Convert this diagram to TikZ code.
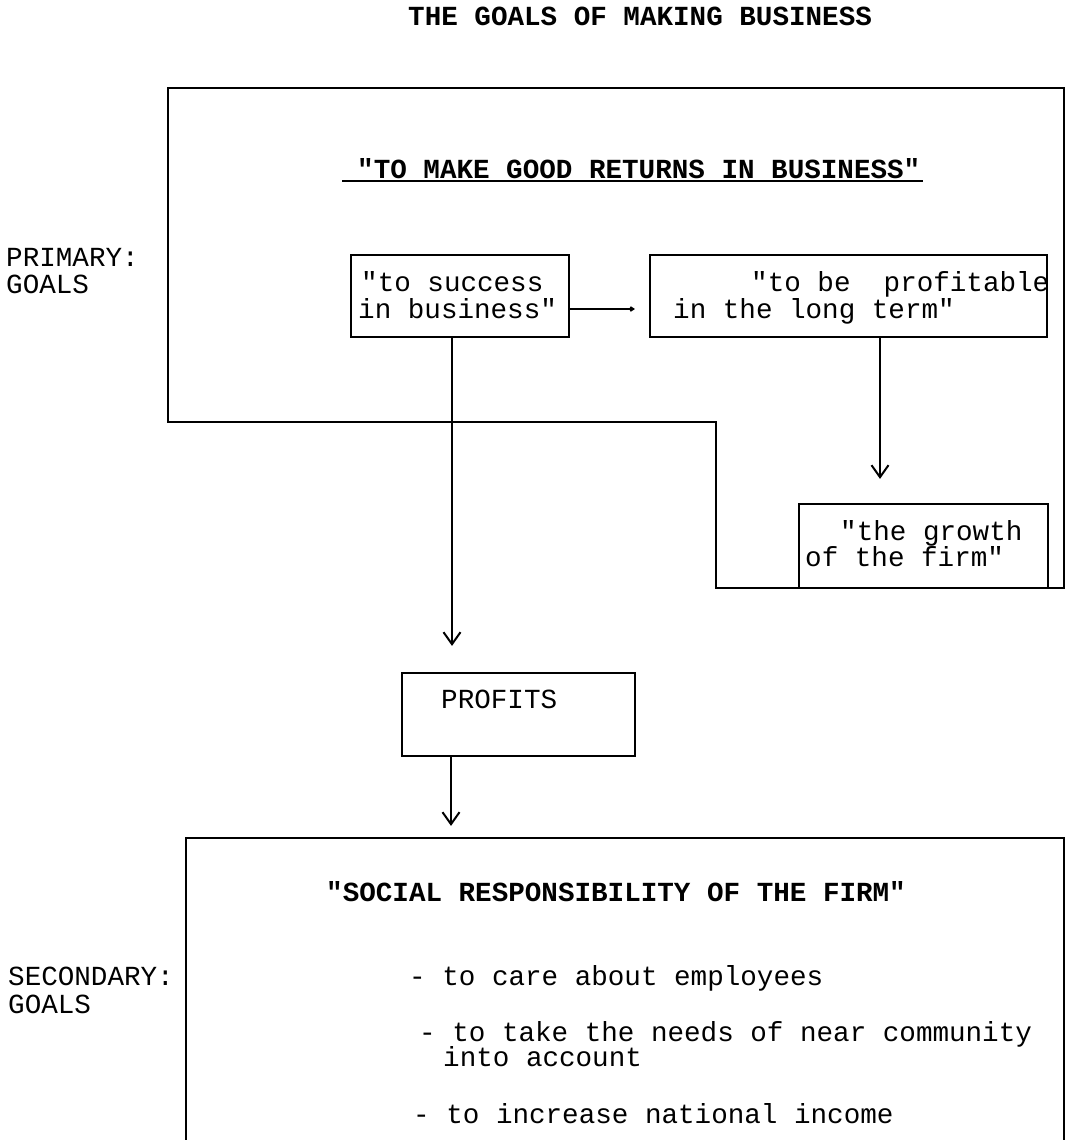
\documentclass[tikz,border=0pt]{standalone}
\usepackage{fontspec}
\setmonofont{Liberation Mono}
\usetikzlibrary{arrows.meta}
\begin{document}
\begin{tikzpicture}[x=1pt,y=-1pt,
  every node/.style={font=\ttfamily\fontsize{27.6}{27}\selectfont, inner sep=0pt},
  txt/.style={anchor=base west},
  bold/.style={font=\ttfamily\bfseries\fontsize{27.6}{27}\selectfont},
  frame/.style={draw, line width=2.2pt, line join=miter},
  box/.style={draw, line width=2.2pt},
  arr/.style={line width=1.8pt, -{Straight Barb[length=12pt,width=17pt,line width=2pt]}},
  tick/.style={line width=1.8pt, -{Straight Barb[length=3pt,width=4pt]}}
]
\useasboundingbox (0,0) rectangle (1066,1140);

% title
\node[txt, bold] (title) at (408,26) {THE GOALS OF MAKING BUSINESS};

% primary region outline
\draw[frame] (168,88) -- (1064,88) -- (1064,588) -- (716,588) -- (716,422) -- (168,422) -- cycle;

\node[txt] (prim1) at (6,266) {PRIMARY:};
\node[txt] (prim2) at (6,293) {GOALS};

% heading with underline
\node[txt, bold] (head) at (357,178) {"TO MAKE GOOD RETURNS IN BUSINESS"};
\draw[line width=1.8pt] ([xshift=-15pt,yshift=-3pt]head.base west) -- ([xshift=2pt,yshift=-3pt]head.base east);

% boxes
\node[box, minimum width=218pt, minimum height=82pt] (succ) at (460,296) {};
\node[box, minimum width=397pt, minimum height=82pt] (prof) at (848.5,296) {};
\node[box, minimum width=249pt, minimum height=84pt] (grow) at (923.5,546) {};
\node[box, minimum width=233pt, minimum height=83pt] (profits) at (518.5,714.5) {};
\node[box, minimum width=878pt, minimum height=312pt] (social) at (625,994) {};

% box texts
\node[txt] (succ1) at (361,291) {"to success};
\node[txt] (succ2) at (358,318) {in business"};
\node[txt] (prof1) at (751,291) {"to be\ \ profitable};
\node[txt] (prof2) at (673,318) {in the long term"};
\node[txt] (grow1) at (840,540) {"the growth};
\node[txt] (grow2) at (805,566) {of the firm"};
\node[txt] (proftxt) at (441,708) {PROFITS};

\node[txt, bold] (soc) at (326,901) {"SOCIAL RESPONSIBILITY OF THE FIRM"};
\node[txt] (sec1) at (8,985) {SECONDARY:};
\node[txt] (sec2) at (8,1013) {GOALS};
\node[txt] (item1) at (409,985) {- to care about employees};
\node[txt] (item2) at (419,1041) {- to take the needs of near community};
\node[txt] (item2b) at (443,1066) {into account};
\node[txt] (item3) at (413,1123) {- to increase national income};

% connectors
\draw[tick, shorten >=14pt] ([yshift=-13pt]succ.east) -- ([yshift=-13pt]succ.east -| prof.west);
\draw[arr, shorten >=26pt] ([xshift=-8pt]succ.south) -- ([xshift=-8pt]succ.south |- profits.north);
\draw[arr, shorten >=24pt] ([xshift=31.5pt]prof.south) -- ([xshift=31.5pt]prof.south |- grow.north);
\draw[arr, shorten >=11pt] ([xshift=-67.5pt]profits.south) -- ([xshift=-67.5pt]profits.south |- social.north);
\end{tikzpicture}
\end{document}
